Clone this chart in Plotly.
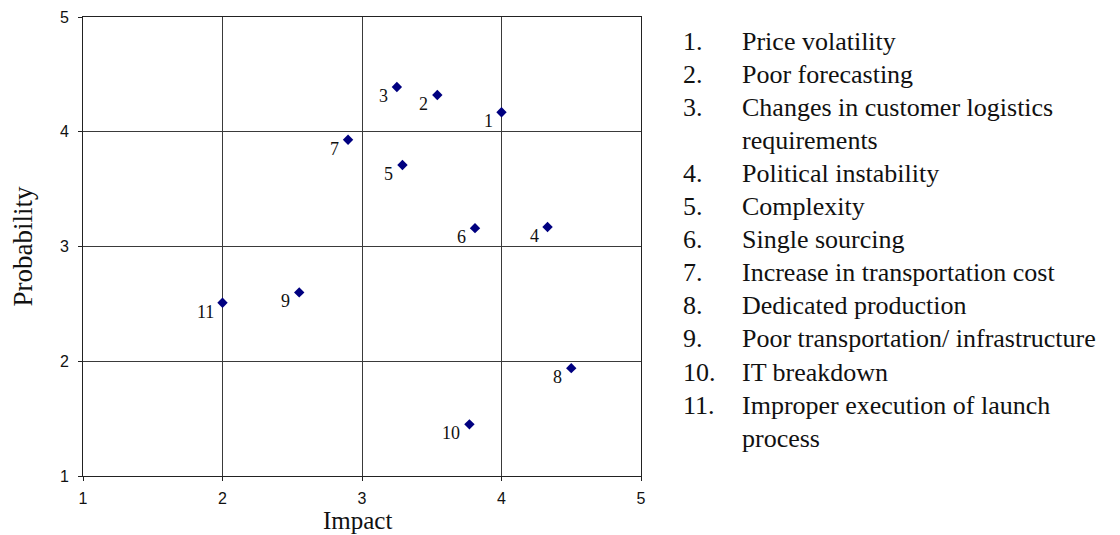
import plotly.graph_objects as go

ids = ["1", "2", "3", "4", "5", "6", "7", "8", "9", "10", "11"]
impact = [4.00, 3.54, 3.25, 4.33, 3.29, 3.81, 2.90, 4.50, 2.55, 3.77, 2.00]
probability = [4.17, 4.32, 4.39, 3.17, 3.71, 3.16, 3.93, 1.94, 2.60, 1.45, 2.51]
risk_names = [
    "Price volatility",
    "Poor forecasting",
    "Changes in customer logistics<br>requirements",
    "Political instability",
    "Complexity",
    "Single sourcing",
    "Increase in transportation cost",
    "Dedicated production",
    "Poor transportation/ infrastructure",
    "IT breakdown",
    "Improper execution of launch<br>process",
]
tick_vals = [1, 2, 3, 4, 5]

serif = "Liberation Serif, Times New Roman, serif"
sans = "Liberation Sans, Arial, sans-serif"
ink = "#111111"

fig = go.Figure()
fig.add_trace(go.Scatter(
    x=impact, y=probability, mode="markers",
    marker=dict(symbol="diamond", size=8, color="#000080"),
    showlegend=False, hoverinfo="x+y",
))

annotations = []
for i, x, y in zip(ids, impact, probability):
    annotations.append(dict(
        x=x, y=y, xref="x", yref="y", text=i, showarrow=False,
        xanchor="right", yanchor="middle", xshift=-7, yshift=-9,
        font=dict(family=serif, size=18, color=ink),
    ))

# numbered list on the right (positions relative to the plot area)
plot_l, plot_w, plot_b, plot_h = 83, 558, 476, 459
line_h = 33.1
first_line = 41
row = 0
for i, name in zip(ids, risk_names):
    parts = name.split("<br>")
    for k, part in enumerate(parts):
        py = first_line + row * line_h
        yp = (plot_b - py) / plot_h
        if k == 0:
            annotations.append(dict(
                x=(681 - plot_l) / plot_w, y=yp, xref="paper", yref="paper",
                text=i + ".", showarrow=False, xanchor="left", yanchor="middle",
                font=dict(family=serif, size=26, color=ink),
            ))
        annotations.append(dict(
            x=(740 - plot_l) / plot_w, y=yp, xref="paper", yref="paper",
            text=part, showarrow=False, xanchor="left", yanchor="middle",
            font=dict(family=serif, size=26, color=ink),
        ))
        row += 1

# x-axis title placed as an annotation (slightly left of centre, as in the reference)
annotations.append(dict(
    x=(357 - plot_l) / plot_w, y=(plot_b - 535) / plot_h, xref="paper", yref="paper",
    text="Impact", showarrow=False, xanchor="center", yanchor="bottom",
    borderpad=0, font=dict(family=serif, size=25, color=ink),
))

axis_common = dict(
    range=[1, 5], tickvals=tick_vals, showgrid=True, gridcolor="#3a3a3a",
    gridwidth=1, zeroline=False, showline=True, linecolor="#222",
    linewidth=1, mirror=True, ticks="outside", ticklen=4, tickcolor="#222",
    tickfont=dict(family=sans, size=16, color=ink), automargin=False,
)

fig.update_layout(
    width=1112, height=527,
    margin=dict(l=75, r=479, t=9, b=59),
    paper_bgcolor="white", plot_bgcolor="white",
    annotations=annotations,
    xaxis=dict(**axis_common, ticklabelstandoff=4),
    yaxis=dict(
        **axis_common, ticklabelstandoff=6,
        title=dict(text="Probability", font=dict(family=serif, size=27, color=ink), standoff=25),
    ),
)

fig.write_html("out.html")
